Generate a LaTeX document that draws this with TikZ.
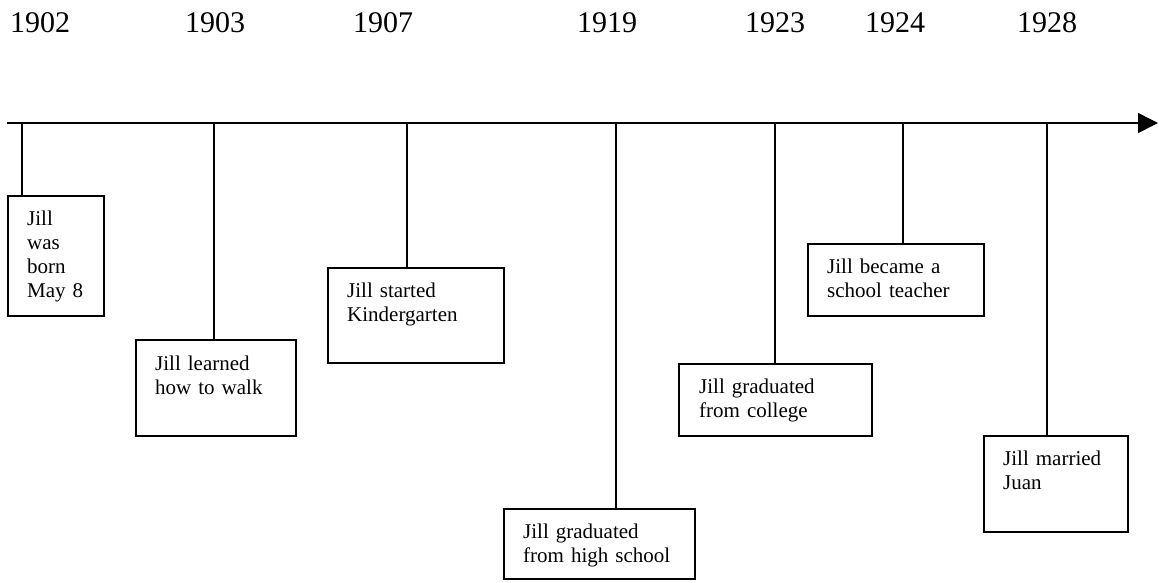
\documentclass[tikz,border=0pt]{standalone}
\usepackage{fontspec}
\setmainfont{Liberation Serif}
\usetikzlibrary{arrows.meta}
\begin{document}
\begin{tikzpicture}[x=1pt,y=-1pt,
  evbox/.style={draw=black,line width=1.8pt,rectangle,inner sep=0pt,anchor=north west},
  evtext/.style={anchor=base west,inner sep=0pt,text width=200pt,align=left,font=\fontsize{21}{24}\selectfont},
  year/.style={anchor=base,inner sep=0pt,font=\fontsize{30}{36}\selectfont},
  tick/.style={line width=1.8pt},
  axis/.style={line width=1.5pt,-{Triangle[length=20pt,width=20pt]}}]
\useasboundingbox (0,0) rectangle (1159,582);
% years
\node[year] (y1) at (40,32) {1902};
\node[year] (y2) at (215,32) {1903};
\node[year] (y3) at (383,32) {1907};
\node[year] (y4) at (607,32) {1919};
\node[year] (y5) at (775,32) {1923};
\node[year] (y6) at (895,32) {1924};
\node[year] (y7) at (1047,32) {1928};
% axis
\coordinate (start) at (7,123);
\coordinate (tip) at (1158,123);
\draw[axis] (start) -- (tip);
\coordinate (t1) at (22,123);
\coordinate (t2) at (214,123);
\coordinate (t3) at (407,123);
\coordinate (t4) at (616,123);
\coordinate (t5) at (775,123);
\coordinate (t6) at (903,123);
\coordinate (t7) at (1047,123);
% boxes
\node[evbox,minimum width=96pt,minimum height=120pt] (b1) at (7,195) {};
\node[evbox,minimum width=160pt,minimum height=96pt] (b2) at (135,339) {};
\node[evbox,minimum width=176pt,minimum height=95pt] (b3) at (327,267) {};
\node[evbox,minimum width=191pt,minimum height=70pt] (b4) at (503,508) {};
\node[evbox,minimum width=193pt,minimum height=72pt] (b5) at (678,363) {};
\node[evbox,minimum width=176pt,minimum height=72pt] (b6) at (807,243) {};
\node[evbox,minimum width=144pt,minimum height=96pt] (b7) at (983,435) {};
% texts
\node[evtext] (l1) at (27,225) {Jill\\was\\born\\May 8};
\node[evtext] (l2) at (155,370) {Jill learned\\how to walk};
\node[evtext] (l3) at (347,297) {Jill started\\Kindergarten};
\node[evtext] (l4) at (523,538) {Jill graduated\\from high school};
\node[evtext] (l5) at (699,393) {Jill graduated\\from college};
\node[evtext] (l6) at (827,273) {Jill became a\\school teacher};
\node[evtext] (l7) at (1003,465) {Jill married\\Juan};
% connectors
\draw[tick] (t1) -- (t1 |- b1.north);
\draw[tick] (t2) -- (t2 |- b2.north);
\draw[tick] (t3) -- (t3 |- b3.north);
\draw[tick] (t4) -- (t4 |- b4.north);
\draw[tick] (t5) -- (t5 |- b5.north);
\draw[tick] (t6) -- (t6 |- b6.north);
\draw[tick] (t7) -- (t7 |- b7.north);
\end{tikzpicture}
\end{document}
